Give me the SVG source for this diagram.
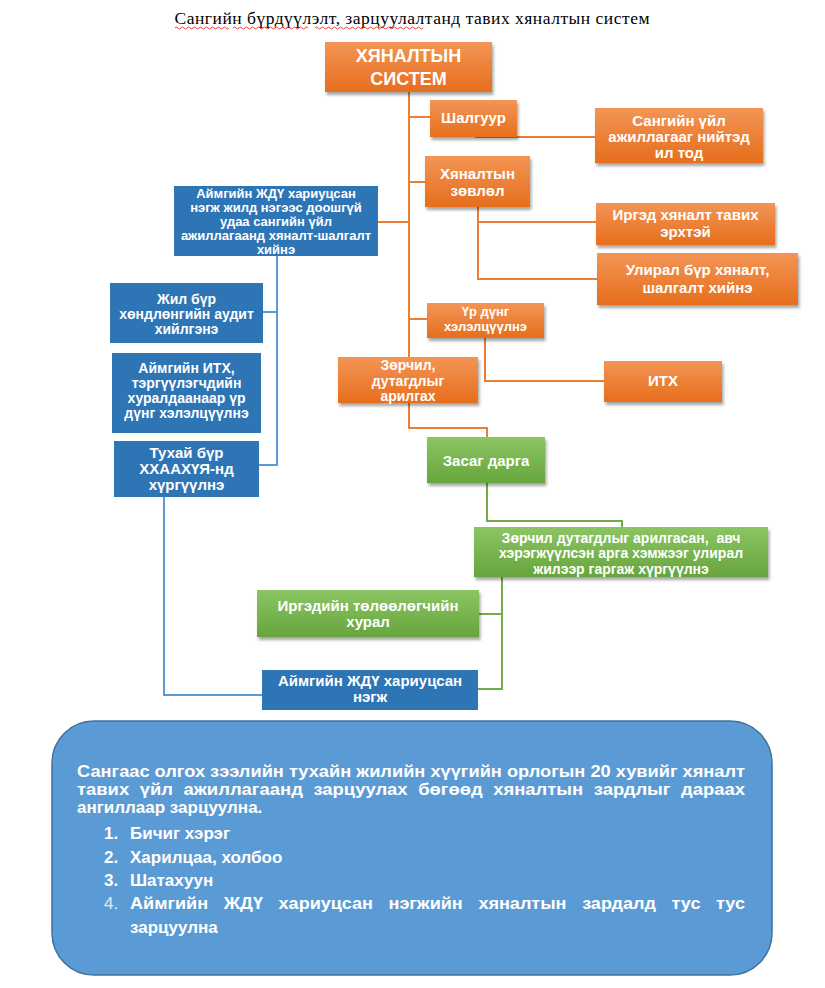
<svg xmlns="http://www.w3.org/2000/svg" width="825" height="988" viewBox="0 0 825 988">
<defs>
<linearGradient id="gOr" x1="0" y1="0" x2="0" y2="1"><stop offset="0" stop-color="#F39556"/><stop offset="1" stop-color="#E66E1C"/></linearGradient>
<linearGradient id="gGr" x1="0" y1="0" x2="0" y2="1"><stop offset="0" stop-color="#8CC564"/><stop offset="1" stop-color="#66A53C"/></linearGradient>
<filter id="sh" x="-10%" y="-20%" width="125%" height="150%"><feDropShadow dx="1.5" dy="3" stdDeviation="1.8" flood-color="#000" flood-opacity="0.35"/></filter>
<style>
.t{font-family:"Liberation Sans",Arial,sans-serif;font-weight:bold;fill:#fff;text-anchor:middle}
.f15{font-size:15px}
.f14{font-size:14px}
.f13{font-size:13px}
.or{fill:url(#gOr);filter:url(#sh)}
.gr{fill:url(#gGr);filter:url(#sh)}
.bl{fill:#2E75B6}
.co{fill:none;stroke:#ED7D31;stroke-width:2}
.cb{fill:none;stroke:#5B9BD5;stroke-width:2}
.cg{fill:none;stroke:#70AD47;stroke-width:2}
.p{font-family:"Liberation Sans",Arial,sans-serif;font-weight:bold;fill:#fff;font-size:17px}
</style>
</defs>
<rect width="825" height="988" fill="#fff"/>
<g id="title">
<text x="412" y="24" font-family="'Liberation Serif','Times New Roman',serif" font-size="17.5px" text-anchor="middle" textLength="475" fill="#000">Сангийн бүрдүүлэлт, зарцуулалтанд тавих хяналтын систем</text>
<path d="M175,28 q1.5,-2 3,0 t3,0 t3,0 t3,0 t3,0 t3,0 t3,0 t3,0 t3,0 t3,0 t3,0 t3,0 t3,0 t3,0 t3,0 t3,0 t3,0 t3,0 M233,28 q1.5,-2 3,0 t3,0 t3,0 t3,0 t3,0 t3,0 t3,0 t3,0 t3,0 t3,0 t3,0 t3,0 t3,0 t3,0 t3,0 t3,0 t3,0 t3,0 t3,0 t3,0 t3,0 t3,0 t3,0 t3,0 t3,0 M315,28 q1.5,-2 3,0 t3,0 t3,0 t3,0 t3,0 t3,0 t3,0 t3,0 t3,0 t3,0 t3,0 t3,0 t3,0 t3,0 t3,0 t3,0 t3,0 t3,0 t3,0 t3,0 t3,0 t3,0 t3,0 t3,0 t3,0 t3,0 t3,0 t3,0 t3,0 t3,0 t3,0 t3,0 t3,0 t3,0 t3,0 t3,0" fill="none" stroke="#E03030" stroke-width="0.9"/>
</g>
<g id="connectors">
<path class="co" d="M409,92 V357 M409,117 H430 M475,137 H595 M409,182 H425 M378,222 H409 M478,207 V279 H597 M478,222 H596 M409,319 H427 M485,338 V381 H604 M409,403 V428 H487 V437"/>
<path class="cg" d="M487,483 V521 H622 V527 M502,577 V689 H478 M502,614 H479"/>
<path class="cb" d="M277,256 V465 H259 M277,312 H263 M164,497 V695 H262"/>
</g>
<g id="n-root"><rect class="or" x="325" y="42" width="167" height="50"/><text class="t" font-size="18px" x="408.5" y="62">ХЯНАЛТЫН</text><text class="t" font-size="18px" x="408.5" y="85">СИСТЕМ</text></g>
<g id="n-shalguur"><rect class="or" x="430" y="100" width="87" height="37"/><text class="t f15" x="473.5" y="123">Шалгуур</text></g>
<g id="n-ilTod"><rect class="or" x="595" y="108" width="168" height="55"/><text class="t f15" x="679" y="126">Сангийн үйл</text><text class="t f15" x="679" y="142">ажиллагааг нийтэд</text><text class="t f15" x="679" y="158">ил тод</text></g>
<g id="n-zovlol"><rect class="or" x="425" y="156" width="105" height="51"/><text class="t f15" x="477.5" y="179">Хяналтын</text><text class="t f15" x="477.5" y="196">зөвлөл</text></g>
<g id="n-irged"><rect class="or" x="596" y="203" width="179" height="42"/><text class="t f15" x="685.5" y="220">Иргэд хяналт тавих</text><text class="t f15" x="685.5" y="237">эрхтэй</text></g>
<g id="n-uliral"><rect class="or" x="597" y="253" width="201" height="52"/><text class="t f15" x="697.5" y="275">Улирал бүр хяналт,</text><text class="t f15" x="697.5" y="293">шалгалт хийнэ</text></g>
<g id="n-urdung"><rect class="or" x="427" y="303" width="117" height="35"/><text class="t f13" x="485.5" y="316">Үр дүнг</text><text class="t f13" x="485.5" y="331">хэлэлцүүлнэ</text></g>
<g id="n-zorchil"><rect class="or" x="338" y="357" width="140" height="46"/><text class="t f14" x="408" y="370">Зөрчил,</text><text class="t f14" x="408" y="386">дутагдлыг</text><text class="t f14" x="408" y="401">арилгах</text></g>
<g id="n-ith"><rect class="or" x="604" y="361" width="118" height="41"/><text class="t f15" x="663" y="386">ИТХ</text></g>
<g id="n-zasag"><rect class="gr" x="427" y="437" width="118" height="46"/><text class="t f15" x="486" y="466">Засаг дарга</text></g>
<g id="n-tailan"><rect class="gr" x="474" y="527" width="294" height="50"/><text class="t f14" x="621" y="543" xml:space="preserve">Зөрчил дутагдлыг арилгасан,  авч</text><text class="t f14" x="621" y="558">хэрэгжүүлсэн арга хэмжээг улирал</text><text class="t f14" x="621" y="574">жилээр гаргаж хүргүүлнэ</text></g>
<g id="n-hural"><rect class="gr" x="257" y="590" width="222" height="47"/><text class="t f15" x="368" y="611">Иргэдийн төлөөлөгчийн</text><text class="t f15" x="368" y="627">хурал</text></g>
<g id="n-jdu2"><rect class="bl" x="262" y="670" width="216" height="40"/><text class="t f15" x="370" y="686">Аймгийн ЖДҮ хариуцсан</text><text class="t f15" x="370" y="702">нэгж</text></g>
<g id="n-jdu1"><rect class="bl" x="174" y="186" width="204" height="70"/><text class="t f13" x="276" y="198">Аймгийн ЖДҮ хариуцсан</text><text class="t f13" x="276" y="212">нэгж жилд нэгээс доошгүй</text><text class="t f13" x="276" y="226">удаа сангийн үйл</text><text class="t f13" x="276" y="240">ажиллагаанд хяналт-шалгалт</text><text class="t f13" x="276" y="254">хийнэ</text></g>
<g id="n-audit"><rect class="bl" x="110" y="283" width="153" height="60"/><text class="t f14" x="186.5" y="304">Жил бүр</text><text class="t f14" x="186.5" y="319">хөндлөнгийн аудит</text><text class="t f14" x="186.5" y="334">хийлгэнэ</text></g>
<g id="n-ithHural"><rect class="bl" x="112" y="353" width="149" height="80"/><text class="t f14" x="186.5" y="373">Аймгийн ИТХ,</text><text class="t f14" x="186.5" y="388">тэргүүлэгчдийн</text><text class="t f14" x="186.5" y="403">хуралдаанаар үр</text><text class="t f14" x="186.5" y="418">дүнг хэлэлцүүлнэ</text></g>
<g id="n-yam"><rect class="bl" x="114" y="441" width="145" height="56"/><text class="t f15" x="186.5" y="458">Тухай бүр</text><text class="t f15" x="186.5" y="474">ХХААХҮЯ-нд</text><text class="t f15" x="186.5" y="490">хүргүүлнэ</text></g>
<g id="n-note">
<rect x="52" y="721" width="720" height="254" rx="42" fill="#5B9BD5" stroke="#41719C" stroke-width="1.5"/>
<text class="p" x="77" y="777" textLength="668" lengthAdjust="spacingAndGlyphs">Сангаас олгох зээлийн тухайн жилийн хүүгийн орлогын 20 хувийг хяналт</text>
<text class="p" x="77" y="795" word-spacing="5" textLength="668" lengthAdjust="spacingAndGlyphs">тавих үйл ажиллагаанд зарцуулах бөгөөд хяналтын зардлыг дараах</text>
<text class="p" x="77" y="813">ангиллаар зарцуулна.</text>
<text class="p" x="104" y="839">1.</text><text class="p" x="130" y="839">Бичиг хэрэг</text>
<text class="p" x="104" y="863">2.</text><text class="p" x="130" y="863">Харилцаа, холбоо</text>
<text class="p" x="104" y="886">3.</text><text class="p" x="130" y="886">Шатахуун</text>
<text x="104" y="909" font-family="'Liberation Sans',Arial,sans-serif" font-size="17px" fill="#E4EAF2">4.</text><text class="p" x="130" y="909" word-spacing="10" textLength="615" lengthAdjust="spacingAndGlyphs">Аймгийн ЖДҮ хариуцсан нэгжийн хяналтын зардалд тус тус</text>
<text class="p" x="130" y="933">зарцуулна</text>
</g>
</svg>
